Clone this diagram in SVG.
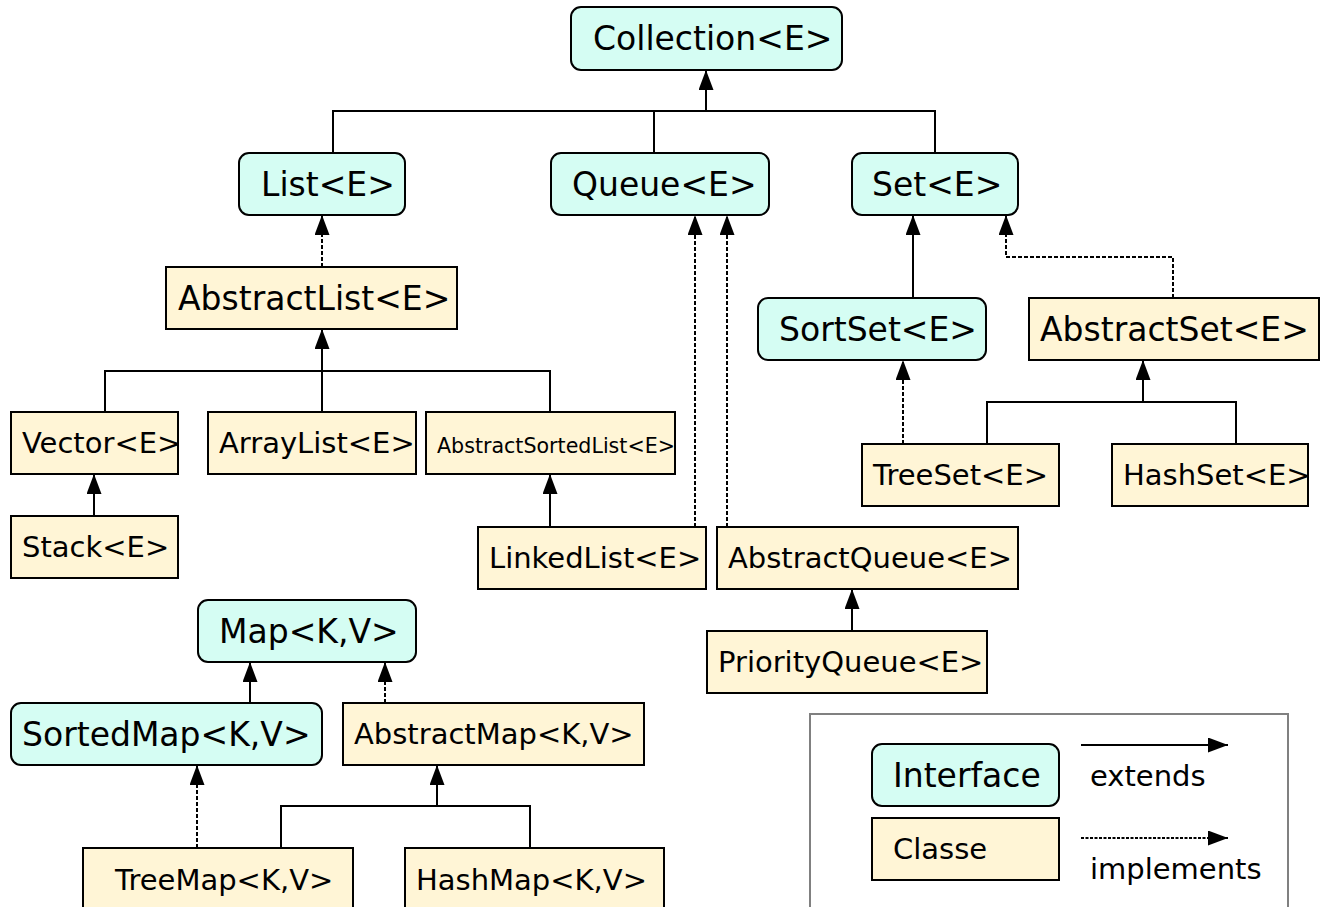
<svg xmlns="http://www.w3.org/2000/svg" width="1320" height="907" viewBox="0 0 1320 907">
<defs>
<marker id="arr" viewBox="0 0 20 15" markerWidth="20" markerHeight="15" refX="20" refY="7.5" orient="auto" markerUnits="userSpaceOnUse">
<path d="M0,0 L20,7.5 L0,15 z" fill="#000"/>
</marker>
</defs>
<style>
.i{fill:#d5fdf3;stroke:#000;stroke-width:2}
.c{fill:#fff5d6;stroke:#000;stroke-width:2}
text{font-family:"DejaVu Sans",sans-serif;fill:#000}
.b{font-size:33px}
.m{font-size:29px}
.s{font-size:20.6px}
.l{fill:none;stroke:#000;stroke-width:2}
.e{fill:none;stroke:#000;stroke-width:2;marker-end:url(#arr)}
.d{fill:none;stroke:#000;stroke-width:2;stroke-dasharray:4,2;marker-end:url(#arr)}
</style>
<rect width="1320" height="907" fill="#fff"/>
<g id="connectors">
<path class="l" d="M333,153 V111 H935 V153 M654,111 V153"/>
<path class="e" d="M706,111 V70"/>
<path class="d" d="M322,267 V215"/>
<path class="l" d="M105,412 V371 H550 V412 M322,412 V371"/>
<path class="e" d="M322,371 V329"/>
<path class="e" d="M94,516 V474"/>
<path class="e" d="M550,527 V474"/>
<path class="d" d="M695,527 V215"/>
<path class="d" d="M727,527 V215"/>
<path class="e" d="M852,631 V589"/>
<path class="e" d="M913,298 V215"/>
<path class="d" d="M1173,298 V257 H1006 V215"/>
<path class="d" d="M903,444 V360"/>
<path class="l" d="M987,444 V402 H1236 V444"/>
<path class="e" d="M1143,402 V360"/>
<path class="e" d="M250,703 V662"/>
<path class="d" d="M385,703 V662"/>
<path class="d" d="M197,848 V765"/>
<path class="l" d="M281,848 V806 H530 V848"/>
<path class="e" d="M437,806 V765"/>
</g>
<g id="Collection"><rect class="i" x="571" y="7" width="271" height="63" rx="10"/><text class="b" x="593" y="50">Collection&lt;E&gt;</text></g>
<g id="List"><rect class="i" x="239" y="153" width="166" height="62" rx="10"/><text class="b" x="261" y="196">List&lt;E&gt;</text></g>
<g id="Queue"><rect class="i" x="551" y="153" width="218" height="62" rx="10"/><text class="b" x="572" y="196">Queue&lt;E&gt;</text></g>
<g id="Set"><rect class="i" x="852" y="153" width="166" height="62" rx="10"/><text class="b" x="872" y="196">Set&lt;E&gt;</text></g>
<g id="AbstractList"><rect class="c" x="166" y="267" width="291" height="62"/><text class="b" x="178" y="310">AbstractList&lt;E&gt;</text></g>
<g id="Vector"><rect class="c" x="11" y="412" width="167" height="62"/><text class="m" x="22" y="453">Vector&lt;E&gt;</text></g>
<g id="ArrayList"><rect class="c" x="208" y="412" width="208" height="62"/><text class="m" x="219" y="453">ArrayList&lt;E&gt;</text></g>
<g id="AbstractSortedList"><rect class="c" x="426" y="412" width="249" height="62"/><text class="s" x="437" y="453">AbstractSortedList&lt;E&gt;</text></g>
<g id="Stack"><rect class="c" x="11" y="516" width="167" height="62"/><text class="m" x="22" y="557">Stack&lt;E&gt;</text></g>
<g id="LinkedList"><rect class="c" x="478" y="527" width="228" height="62"/><text class="m" x="489" y="568">LinkedList&lt;E&gt;</text></g>
<g id="AbstractQueue"><rect class="c" x="717" y="527" width="301" height="62"/><text class="m" x="728" y="568">AbstractQueue&lt;E&gt;</text></g>
<g id="PriorityQueue"><rect class="c" x="707" y="631" width="280" height="62"/><text class="m" x="718" y="672">PriorityQueue&lt;E&gt;</text></g>
<g id="SortSet"><rect class="i" x="758" y="298" width="228" height="62" rx="10"/><text class="b" x="779" y="341">SortSet&lt;E&gt;</text></g>
<g id="AbstractSet"><rect class="c" x="1029" y="298" width="290" height="62"/><text class="b" x="1040" y="341">AbstractSet&lt;E&gt;</text></g>
<g id="TreeSet"><rect class="c" x="862" y="444" width="197" height="62"/><text class="m" x="873" y="485">TreeSet&lt;E&gt;</text></g>
<g id="HashSet"><rect class="c" x="1112" y="444" width="196" height="62"/><text class="m" x="1123" y="485">HashSet&lt;E&gt;</text></g>
<g id="Map"><rect class="i" x="198" y="600" width="218" height="62" rx="10"/><text class="b" x="219" y="643">Map&lt;K,V&gt;</text></g>
<g id="SortedMap"><rect class="i" x="11" y="703" width="311" height="62" rx="10"/><text class="b" x="22" y="746">SortedMap&lt;K,V&gt;</text></g>
<g id="AbstractMap"><rect class="c" x="343" y="703" width="301" height="62"/><text class="m" x="354" y="744">AbstractMap&lt;K,V&gt;</text></g>
<g id="TreeMap"><rect class="c" x="83" y="848" width="270" height="70"/><text class="m" x="115" y="890">TreeMap&lt;K,V&gt;</text></g>
<g id="HashMap"><rect class="c" x="405" y="848" width="259" height="70"/><text class="m" x="416" y="890">HashMap&lt;K,V&gt;</text></g>
<g id="legend">
<rect x="810" y="714" width="478" height="210" fill="none" stroke="#808080" stroke-width="2"/>
<rect class="i" x="872" y="744" width="187" height="62" rx="10"/><text class="b" x="893" y="787">Interface</text>
<rect class="c" x="872" y="818" width="187" height="62"/><text class="m" x="893" y="859">Classe</text>
<path class="e" d="M1081,745 H1228"/>
<text class="m" x="1090" y="786">extends</text>
<path class="d" d="M1081,838 H1228" style="stroke-dasharray:3,1.5"/>
<text class="m" x="1090" y="879">implements</text>
</g>
</svg>
